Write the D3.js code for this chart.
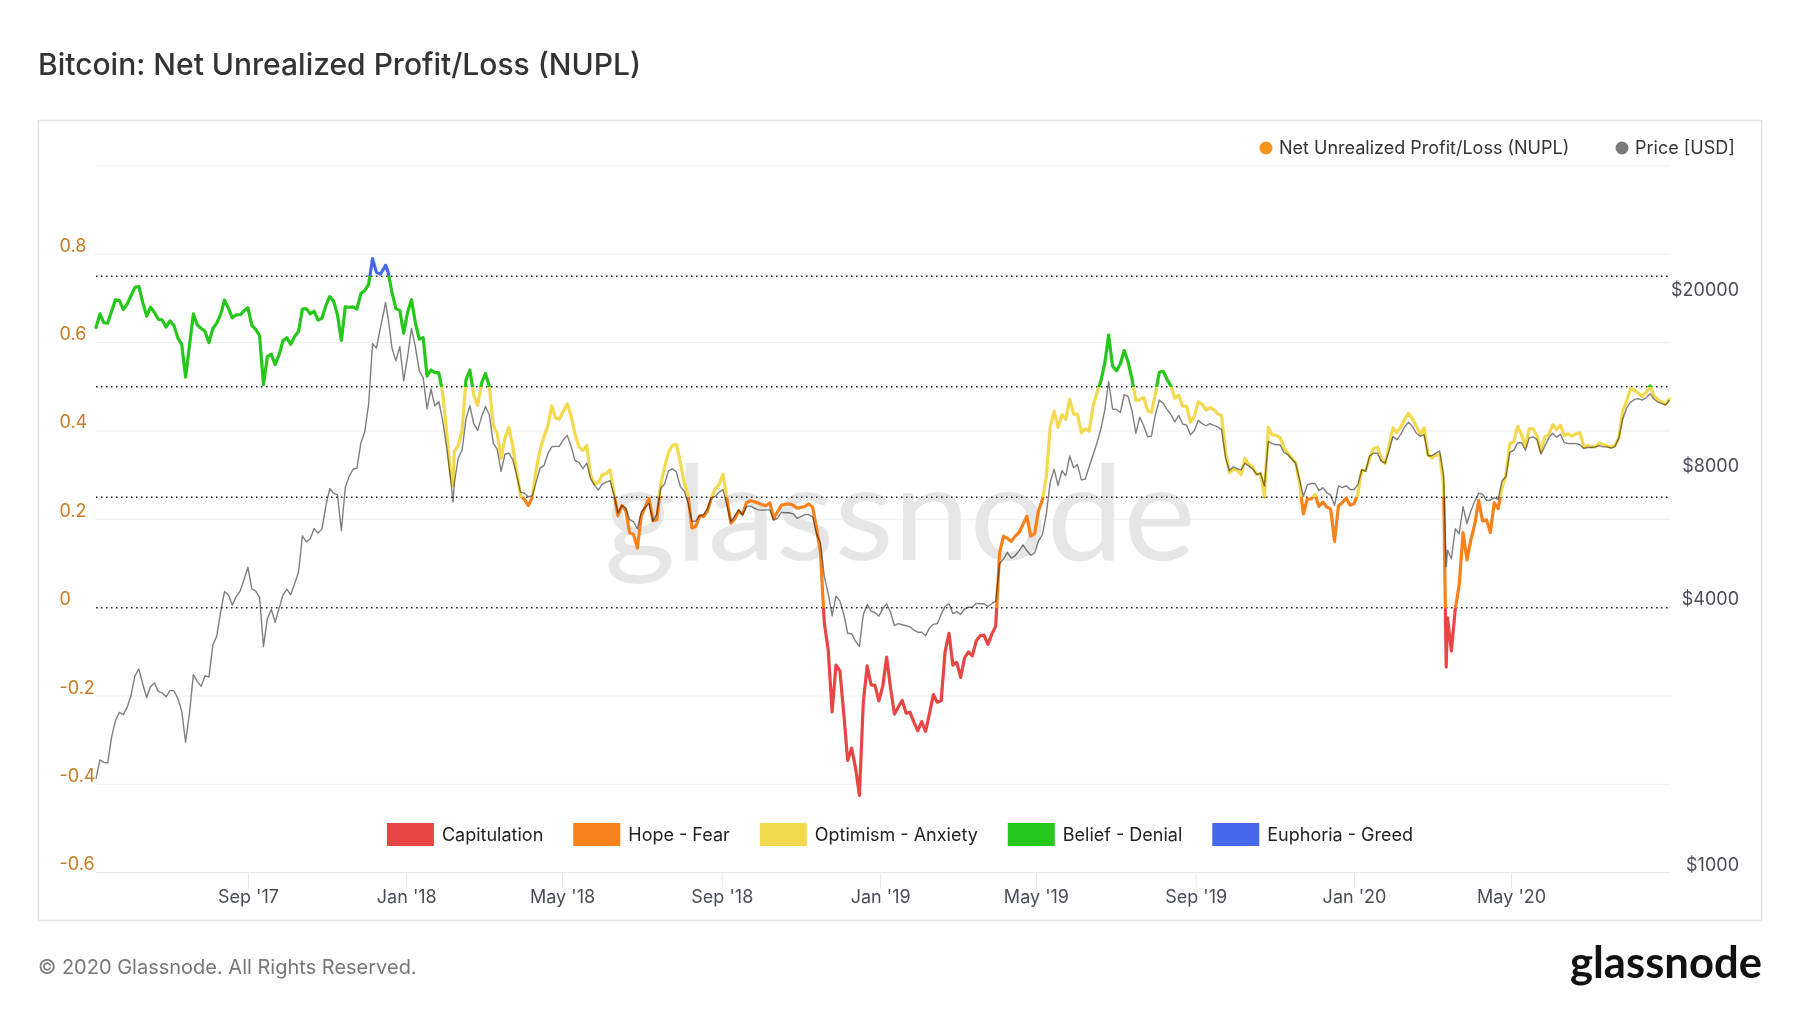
<!DOCTYPE html>
<html><head><meta charset="utf-8">
<script src="https://cdn.jsdelivr.net/npm/d3@7"></script>
<style>
html,body{margin:0;padding:0;background:#fff;}
svg{display:block;font-family:Inter,"Noto Sans",sans-serif;}
</style></head><body>
<svg id="chart" width="1800" height="1013"></svg>
<script>
// ---------------- DATA ----------------
const chartTitle = "Bitcoin: Net Unrealized Profit/Loss (NUPL)";
const dates = [
"2017-05-07","2017-05-10","2017-05-13","2017-05-16","2017-05-19","2017-05-22","2017-05-25","2017-05-28","2017-05-31",
"2017-06-03","2017-06-06","2017-06-09","2017-06-12","2017-06-15","2017-06-18","2017-06-21","2017-06-24","2017-06-27","2017-06-30",
"2017-07-03","2017-07-06","2017-07-09","2017-07-12","2017-07-15","2017-07-18","2017-07-21","2017-07-24","2017-07-27","2017-07-30",
"2017-08-02","2017-08-05","2017-08-08","2017-08-11","2017-08-14","2017-08-17","2017-08-20","2017-08-23","2017-08-26","2017-08-29",
"2017-09-01","2017-09-04","2017-09-07","2017-09-10","2017-09-13","2017-09-16","2017-09-19","2017-09-22","2017-09-25","2017-09-28",
"2017-10-01","2017-10-04","2017-10-07","2017-10-10","2017-10-13","2017-10-16","2017-10-19","2017-10-22","2017-10-25","2017-10-28","2017-10-31",
"2017-11-03","2017-11-06","2017-11-09","2017-11-12","2017-11-15","2017-11-18","2017-11-21","2017-11-24","2017-11-27","2017-11-30",
"2017-12-03","2017-12-06","2017-12-09","2017-12-12","2017-12-15","2017-12-16","2017-12-18","2017-12-21","2017-12-24","2017-12-27","2017-12-30",
"2018-01-02","2018-01-05","2018-01-08","2018-01-11","2018-01-14","2018-01-17","2018-01-20","2018-01-23","2018-01-26","2018-01-29",
"2018-02-01","2018-02-04","2018-02-06","2018-02-07","2018-02-10","2018-02-13","2018-02-16","2018-02-19","2018-02-22","2018-02-25","2018-02-28",
"2018-03-03","2018-03-06","2018-03-09","2018-03-12","2018-03-15","2018-03-18","2018-03-21","2018-03-24","2018-03-27","2018-03-30",
"2018-04-02","2018-04-05","2018-04-08","2018-04-11","2018-04-14","2018-04-17","2018-04-20","2018-04-23","2018-04-26","2018-04-29",
"2018-05-02","2018-05-05","2018-05-08","2018-05-11","2018-05-14","2018-05-17","2018-05-20","2018-05-23","2018-05-26","2018-05-29",
"2018-06-01","2018-06-04","2018-06-07","2018-06-10","2018-06-13","2018-06-16","2018-06-19","2018-06-22","2018-06-25","2018-06-28",
"2018-07-01","2018-07-04","2018-07-07","2018-07-10","2018-07-13","2018-07-16","2018-07-19","2018-07-22","2018-07-25","2018-07-28","2018-07-31",
"2018-08-03","2018-08-06","2018-08-09","2018-08-12","2018-08-15","2018-08-18","2018-08-21","2018-08-24","2018-08-27","2018-08-30",
"2018-09-02","2018-09-05","2018-09-08","2018-09-11","2018-09-14","2018-09-17","2018-09-20","2018-09-23","2018-09-26","2018-09-29",
"2018-10-02","2018-10-05","2018-10-08","2018-10-11","2018-10-14","2018-10-17","2018-10-20","2018-10-23","2018-10-26","2018-10-29",
"2018-11-01","2018-11-04","2018-11-07","2018-11-10","2018-11-13","2018-11-16","2018-11-19","2018-11-22","2018-11-25","2018-11-28",
"2018-12-01","2018-12-04","2018-12-07","2018-12-10","2018-12-13","2018-12-16","2018-12-19","2018-12-22","2018-12-25","2018-12-28","2018-12-31",
"2019-01-03","2019-01-06","2019-01-09","2019-01-12","2019-01-15","2019-01-18","2019-01-21","2019-01-24","2019-01-27","2019-01-30",
"2019-02-02","2019-02-05","2019-02-08","2019-02-11","2019-02-14","2019-02-17","2019-02-20","2019-02-23","2019-02-26",
"2019-03-01","2019-03-04","2019-03-07","2019-03-10","2019-03-13","2019-03-16","2019-03-19","2019-03-22","2019-03-25","2019-03-28","2019-03-31",
"2019-04-03","2019-04-06","2019-04-09","2019-04-12","2019-04-15","2019-04-18","2019-04-21","2019-04-24","2019-04-27","2019-04-30",
"2019-05-03","2019-05-06","2019-05-09","2019-05-12","2019-05-15","2019-05-18","2019-05-21","2019-05-24","2019-05-27","2019-05-30",
"2019-06-02","2019-06-05","2019-06-08","2019-06-11","2019-06-14","2019-06-17","2019-06-20","2019-06-23","2019-06-26","2019-06-29",
"2019-07-02","2019-07-05","2019-07-08","2019-07-11","2019-07-14","2019-07-17","2019-07-20","2019-07-23","2019-07-26","2019-07-29",
"2019-08-01","2019-08-04","2019-08-07","2019-08-10","2019-08-13","2019-08-16","2019-08-19","2019-08-22","2019-08-25","2019-08-28","2019-08-31",
"2019-09-03","2019-09-06","2019-09-09","2019-09-12","2019-09-15","2019-09-18","2019-09-21","2019-09-24","2019-09-27","2019-09-30",
"2019-10-03","2019-10-06","2019-10-09","2019-10-12","2019-10-15","2019-10-18","2019-10-21","2019-10-24","2019-10-27","2019-10-30",
"2019-11-02","2019-11-05","2019-11-08","2019-11-11","2019-11-14","2019-11-17","2019-11-20","2019-11-23","2019-11-26","2019-11-29",
"2019-12-02","2019-12-05","2019-12-08","2019-12-11","2019-12-14","2019-12-17","2019-12-20","2019-12-23","2019-12-26","2019-12-29",
"2020-01-01","2020-01-04","2020-01-07","2020-01-10","2020-01-13","2020-01-16","2020-01-19","2020-01-22","2020-01-25","2020-01-28","2020-01-31",
"2020-02-03","2020-02-06","2020-02-09","2020-02-12","2020-02-15","2020-02-18","2020-02-21","2020-02-24","2020-02-27",
"2020-03-01","2020-03-04","2020-03-07","2020-03-10","2020-03-12","2020-03-13","2020-03-16","2020-03-19","2020-03-22","2020-03-25","2020-03-28","2020-03-31",
"2020-04-03","2020-04-06","2020-04-09","2020-04-12","2020-04-15","2020-04-18","2020-04-21","2020-04-24","2020-04-27","2020-04-30",
"2020-05-03","2020-05-06","2020-05-09","2020-05-12","2020-05-15","2020-05-18","2020-05-21","2020-05-24","2020-05-27","2020-05-30",
"2020-06-02","2020-06-05","2020-06-08","2020-06-11","2020-06-14","2020-06-17","2020-06-20","2020-06-23","2020-06-26","2020-06-29",
"2020-07-02","2020-07-05","2020-07-08","2020-07-11","2020-07-14","2020-07-17","2020-07-20","2020-07-23","2020-07-26","2020-07-29",
"2020-08-01","2020-08-04","2020-08-07","2020-08-10","2020-08-13","2020-08-16","2020-08-19","2020-08-22","2020-08-25","2020-08-28","2020-08-31"
];
const nuplValues = [
0.634,0.665,0.645,0.644,0.671,0.697,0.695,0.675,0.687,
0.706,0.725,0.727,0.691,0.660,0.680,0.668,0.653,0.651,0.635,
0.649,0.639,0.611,0.596,0.522,0.593,0.665,0.640,0.632,0.625,
0.600,0.632,0.644,0.664,0.696,0.678,0.656,0.663,0.663,0.672,
0.679,0.639,0.630,0.616,0.505,0.568,0.574,0.550,0.572,0.604,
0.611,0.596,0.614,0.625,0.676,0.677,0.665,0.671,0.651,0.655,0.683,
0.704,0.694,0.663,0.605,0.681,0.680,0.681,0.676,0.711,0.718,
0.732,0.790,0.759,0.755,0.769,0.775,0.760,0.713,0.677,0.673,0.621,
0.668,0.697,0.645,0.608,0.611,0.524,0.538,0.532,0.532,0.487,
0.401,0.304,0.276,0.354,0.366,0.402,0.516,0.538,0.480,0.458,0.509,
0.530,0.500,0.413,0.394,0.338,0.384,0.408,0.366,0.308,0.254,
0.245,0.231,0.249,0.313,0.356,0.387,0.410,0.457,0.429,0.427,
0.445,0.461,0.434,0.392,0.364,0.356,0.367,0.300,0.280,0.283,
0.301,0.303,0.312,0.258,0.208,0.231,0.221,0.169,0.166,0.135,
0.207,0.228,0.247,0.197,0.199,0.279,0.319,0.352,0.367,0.370,0.330,
0.284,0.254,0.180,0.184,0.208,0.206,0.219,0.248,0.269,0.279,
0.302,0.246,0.191,0.201,0.218,0.212,0.237,0.242,0.240,0.237,
0.233,0.231,0.237,0.202,0.217,0.232,0.234,0.235,0.232,0.225,
0.227,0.229,0.235,0.227,0.180,0.125,-0.035,-0.096,-0.236,-0.130,
-0.143,-0.241,-0.346,-0.318,-0.362,-0.425,-0.215,-0.132,-0.175,-0.176,-0.211,
-0.178,-0.112,-0.182,-0.241,-0.225,-0.210,-0.239,-0.237,-0.259,-0.279,
-0.258,-0.280,-0.240,-0.197,-0.214,-0.211,-0.100,-0.058,-0.130,
-0.124,-0.158,-0.114,-0.100,-0.109,-0.075,-0.064,-0.062,-0.083,-0.060,-0.042,
0.124,0.162,0.157,0.150,0.162,0.170,0.188,0.207,0.162,0.168,
0.220,0.245,0.296,0.409,0.445,0.408,0.437,0.426,0.472,0.438,
0.438,0.396,0.405,0.400,0.456,0.486,0.513,0.553,0.617,0.547,
0.536,0.552,0.582,0.556,0.517,0.469,0.471,0.476,0.446,0.442,
0.484,0.533,0.535,0.517,0.501,0.474,0.481,0.456,0.456,0.420,0.433,
0.466,0.460,0.447,0.453,0.448,0.439,0.434,0.354,0.305,0.313,
0.311,0.301,0.338,0.324,0.318,0.301,0.304,0.251,0.408,0.391,
0.390,0.385,0.363,0.350,0.338,0.329,0.283,0.212,0.246,0.246,
0.256,0.229,0.239,0.228,0.223,0.150,0.230,0.238,0.248,0.232,
0.235,0.258,0.311,0.311,0.339,0.360,0.364,0.337,0.327,0.367,0.407,
0.396,0.409,0.426,0.440,0.427,0.411,0.393,0.407,0.346,
0.339,0.346,0.346,0.276,-0.134,-0.023,-0.098,-0.003,0.051,0.170,0.108,0.153,
0.189,0.243,0.196,0.199,0.170,0.237,0.224,0.271,0.300,0.371,
0.376,0.410,0.392,0.365,0.405,0.405,0.388,0.354,0.386,0.392,
0.414,0.403,0.413,0.389,0.393,0.388,0.394,0.396,0.364,0.367,
0.364,0.364,0.373,0.369,0.366,0.363,0.367,0.384,0.445,0.468,
0.496,0.492,0.486,0.478,0.487,0.502,0.480,0.471,0.466,0.461,0.473
];
const priceValues = [
1640,1809,1786,1780,2038,2220,2318,2291,2379,
2533,2806,2906,2688,2505,2649,2703,2586,2566,2514,
2600,2595,2496,2335,1986,2308,2822,2724,2654,2806,
2786,3292,3449,3914,4351,4271,4054,4239,4359,4625,
4937,4415,4359,4223,3268,3777,3964,3708,3986,4271,
4407,4278,4532,4810,5815,5634,5729,6046,5901,6024,6784,
7442,7264,7198,5979,7484,7930,8229,8275,9426,10004,
11563,15827,15479,17148,18887,19636,18129,15479,14479,15596,13052,
14808,17148,15567,13748,13268,11268,12504,11456,11716,10616,
9268,7884,6940,7652,8716,9100,10716,11456,10420,10080,10816,
11416,10916,9426,9132,8136,8900,8948,8652,7972,7308,
7264,7132,7160,7684,8275,8384,8913,9252,9270,9280,
9600,9820,9270,8604,8528,8260,8500,7824,7568,7388,
7612,7696,7752,7198,6548,6808,6732,6332,6264,6035,
6584,6748,6884,6276,6524,7456,7624,8168,8244,8120,7528,
7348,6924,6276,6290,6464,6500,6708,7104,7140,7308,
7404,6820,6264,6450,6672,6476,6772,6800,6720,6660,
6650,6660,6660,6308,6380,6572,6560,6560,6524,6370,
6430,6500,6500,6420,5868,5612,4696,4302,3834,4247,
4138,3862,3501,3490,3360,3268,3855,4069,3928,3900,3827,
3979,4084,3906,3646,3680,3660,3640,3620,3560,3520,
3520,3455,3600,3667,3680,3862,4024,4084,3880,
3920,3862,3972,4009,4009,4091,4084,4084,4024,4084,4138,
5029,5152,5338,5180,5249,5378,5550,5387,5256,5319,
5666,5857,6524,7696,8229,7556,8168,7958,8816,8292,
8432,7784,7824,8337,8864,9440,10152,11184,13004,11268,
11240,11060,12136,12024,11140,9928,10796,10324,9744,9790,
10936,11804,11604,11248,10936,10536,10896,10420,10360,9856,10060,
10616,10440,10324,10440,10340,10268,10116,8752,8168,8337,
8260,8200,8492,8368,8244,8016,8060,7544,9512,9408,
9350,9350,8984,8880,8684,8492,7812,7144,7584,7640,
7640,7360,7480,7280,7198,6820,7544,7480,7556,7404,
7404,7596,8212,8140,8816,8948,8948,8588,8500,9064,9764,
9600,9872,10268,10520,10292,9928,9776,9856,8832,
8832,8948,9048,7972,4950,5400,5160,6035,5880,6772,6204,6620,
6964,7264,7230,7004,7004,7092,7040,7752,7916,8984,
9084,9440,9460,9084,9692,9744,9600,8913,9288,9692,
9928,9728,9872,9460,9408,9420,9408,9350,9168,9220,
9220,9250,9310,9250,9250,9190,9265,9692,10700,11328,
11672,11848,11892,11804,11940,12204,11870,11672,11584,11500,11804
];
const xTickDates = ["2017-09-01","2018-01-01","2018-05-01","2018-09-01","2019-01-01","2019-05-01","2019-09-01","2020-01-01","2020-05-01"];
const xTickLabels = ["Sep '17","Jan '18","May '18","Sep '18","Jan '19","May '19","Sep '19","Jan '20","May '20"];
const nuplGridValues = [-0.6,-0.4,-0.2,0,0.2,0.4,0.6,0.8,1.0];
const nuplTicks = [0.8,0.6,0.4,0.2,0,-0.2,-0.4,-0.6];
const nuplTickLabels = ["0.8","0.6","0.4","0.2","0","-0.2","-0.4","-0.6"];
const priceTicks = [20000,8000,4000,1000];
const priceTickLabels = ["$20000","$8000","$4000","$1000"];
const zoneNames = ["Capitulation","Hope - Fear","Optimism - Anxiety","Belief - Denial","Euphoria - Greed"];
const zoneThresholds = [0,0.25,0.5,0.75];
const zoneColors = ["#e84545","#f7821b","#f3d94e","#25c71a","#4569ea"];
const seriesNames = ["Net Unrealized Profit/Loss (NUPL)","Price [USD]"];
const seriesColors = ["#f7931a","#7a7a7a"];

// ---------------- LAYOUT ----------------
const parse = d3.utcParse("%Y-%m-%d");
const plot = {left:96, right:1669.5, top:165.9, bottom:872.7};
const svg = d3.select("#chart");
const n = Math.min(dates.length, nuplValues.length, priceValues.length);
const data = d3.range(n).map(i => ({date: parse(dates[i]), nupl: nuplValues[i], price: priceValues[i]}));

const x = d3.scaleUtc().domain([data[0].date, data[n-1].date]).range([plot.left, plot.right]);
const y = d3.scaleLinear().domain([-0.6, 1.0]).range([plot.bottom, plot.top]);
const yP = d3.scaleLog().domain([1005, 40000]).range([plot.bottom, plot.top]);

// title
svg.append("text").attr("x",38).attr("y",75).attr("font-size",30).attr("font-weight",500)
  .attr("fill","#333").text(chartTitle);

// frame
svg.append("rect").attr("x",38.5).attr("y",120.5).attr("width",1723).attr("height",800)
  .attr("fill","none").attr("stroke","#e4e4e4").attr("stroke-width",1.5);

// grid
svg.append("g").selectAll("line").data(nuplGridValues).join("line")
  .attr("x1",plot.left).attr("x2",1670).attr("y1",d=>y(d)).attr("y2",d=>y(d))
  .attr("stroke",d=>d===-0.6?"#e3e3e3":"#efefef").attr("stroke-width",1);

// watermark
svg.append("text").attr("x",900).attr("y",560).attr("text-anchor","middle")
  .attr("font-family","Lato, 'Open Sans', sans-serif").attr("font-size",132)
  .attr("fill","#e6e6e6").attr("textLength",591).attr("lengthAdjust","spacingAndGlyphs").text("glassnode");

// dotted zone lines
svg.append("g").selectAll("line").data(zoneThresholds).join("line")
  .attr("x1",plot.left).attr("x2",1670).attr("y1",d=>y(d)).attr("y2",d=>y(d))
  .attr("stroke","#222").attr("stroke-width",1.5).attr("stroke-dasharray","1.5,3.5");

// gradient for zone colours
const defs = svg.append("defs");
const grad = defs.append("linearGradient").attr("id","zoneGrad").attr("gradientUnits","userSpaceOnUse")
  .attr("x1",0).attr("x2",0).attr("y1",y(1.0)).attr("y2",y(-0.6));
const off = v => (y(v) - y(1.0)) / (y(-0.6) - y(1.0));
for (let i = zoneColors.length - 1; i >= 0; i--) {
  const upper = i === zoneColors.length - 1 ? 1.0 : zoneThresholds[i];
  const lower = i === 0 ? -0.6 : zoneThresholds[i-1];
  grad.append("stop").attr("offset",off(upper)).attr("stop-color",zoneColors[i]);
  grad.append("stop").attr("offset",off(lower)).attr("stop-color",zoneColors[i]);
}

// NUPL line
svg.append("path").datum(data)
  .attr("d", d3.line().x(d=>x(d.date)).y(d=>y(d.nupl)))
  .attr("fill","none").attr("stroke","url(#zoneGrad)").attr("stroke-width",3.2)
  .attr("stroke-linejoin","round").attr("stroke-linecap","round");

// Price line
svg.append("path").datum(data)
  .attr("d", d3.line().x(d=>x(d.date)).y(d=>yP(d.price)))
  .attr("fill","none").attr("stroke","#7f7f7f").attr("stroke-width",1.4)
  .attr("stroke-linejoin","round").style("mix-blend-mode","multiply");

// left axis
const gL = svg.append("g")
  .call(d3.axisLeft(y).tickValues(nuplTicks).tickFormat((d,i)=>nuplTickLabels[i]).tickSize(0));
gL.select(".domain").remove();
gL.attr("font-family",null).attr("font-size",null);
gL.selectAll("text").attr("x",59.5).attr("y",-3).attr("dy",0).attr("text-anchor","start")
  .attr("fill","#c97b25").style("font-size","18px");

// right axis
const gR = svg.append("g")
  .call(d3.axisRight(yP).tickValues(priceTicks).tickFormat((d,i)=>priceTickLabels[i]).tickSize(0));
gR.select(".domain").remove();
gR.attr("font-family",null).attr("font-size",null);
gR.selectAll("text").attr("x",1739).attr("y",-3).attr("dy",0).attr("text-anchor","end")
  .attr("fill","#4a4d57").style("font-size","18px");

// bottom axis
const gB = svg.append("g").attr("transform",`translate(0,${plot.bottom})`)
  .call(d3.axisBottom(x).tickValues(xTickDates.map(parse)).tickFormat((d,i)=>xTickLabels[i]).tickSize(16));
gB.select(".domain").remove();
gB.attr("font-family",null).attr("font-size",null);
gB.selectAll(".tick line").attr("stroke","#e6e6e6");
gB.selectAll("text").attr("y",30.5).attr("dy",0).attr("fill","#4a4d57").style("font-size","18px");

// top legend
const tl = svg.append("g");
const topX = [1266, 1622];
seriesNames.forEach((s,i)=>{
  tl.append("circle").attr("cx",topX[i]).attr("cy",148).attr("r",6.5).attr("fill",seriesColors[i]);
  tl.append("text").attr("x",topX[i]+13).attr("y",154).attr("font-size",18).attr("fill","#333").text(s);
});

// bottom legend (centred)
const bl = svg.append("g");
let cx = 0;
zoneNames.forEach((name,i)=>{
  const g = bl.append("g");
  g.append("rect").attr("x",0).attr("y",823).attr("width",47).attr("height",23).attr("fill",zoneColors[i]);
  const t = g.append("text").attr("x",55).attr("y",841).attr("font-size",18).attr("fill","#222").text(name);
  const w = 55 + t.node().getComputedTextLength();
  g.attr("transform",`translate(${cx},0)`);
  cx += w + 30;
});
const totalW = cx - 30;
bl.attr("transform",`translate(${900 - totalW/2},0)`);

// footer
svg.append("text").attr("x",38).attr("y",974).attr("font-size",20).attr("fill","#777")
  .text("© 2020 Glassnode. All Rights Reserved.");
svg.append("text").attr("x",1762).attr("y",978).attr("text-anchor","end")
  .attr("font-family","Lato, 'Open Sans', sans-serif").attr("font-weight",700).attr("font-size",43)
  .attr("fill","#111").attr("textLength",192).attr("lengthAdjust","spacingAndGlyphs").text("glassnode");
</script>
</body></html>
